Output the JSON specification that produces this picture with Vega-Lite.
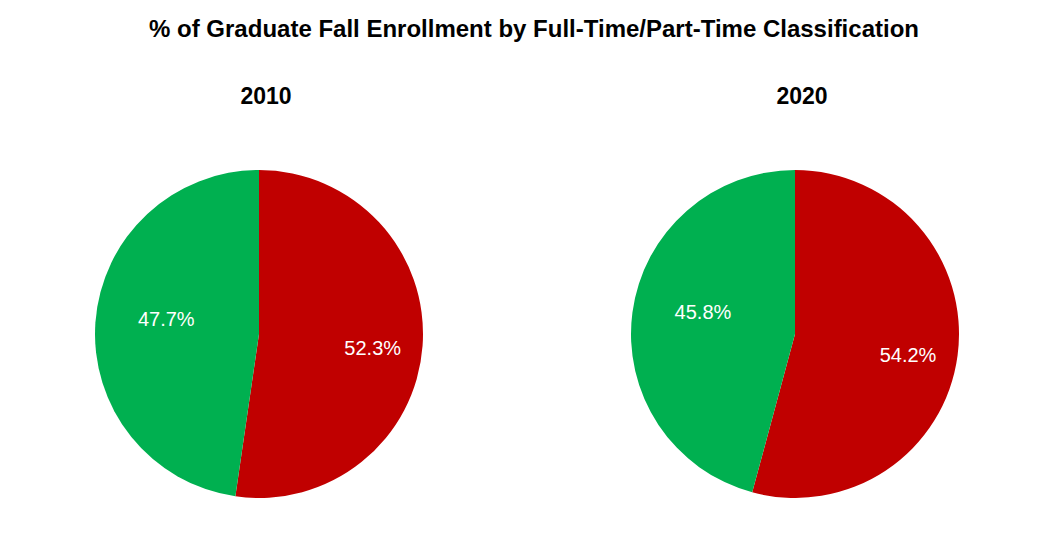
{
  "$schema": "https://vega.github.io/schema/vega-lite/v6.json",
  "background": "white",
  "padding": {"left": 95, "top": 18, "right": 0, "bottom": 0},
  "title": {
    "text": "% of Graduate Fall Enrollment by Full-Time/Part-Time Classification",
    "font": "Liberation Sans",
    "fontSize": 24,
    "fontWeight": "bold",
    "color": "black",
    "anchor": "middle",
    "offset": 44,
    "dx": 7
  },
  "data": {
    "values": [
      {"year": "2010", "Type": "Full-Time", "pct": 0.523},
      {"year": "2010", "Type": "Part-Time", "pct": 0.477},
      {"year": "2020", "Type": "Full-Time", "pct": 0.542},
      {"year": "2020", "Type": "Part-Time", "pct": 0.458}
    ]
  },
  "spacing": 208,
  "hconcat": [
    {
      "transform": [{"filter": "datum.year == '2010'"}],
      "title": {"text": "2010", "font": "Liberation Sans", "fontSize": 23, "fontWeight": "bold", "color": "black", "anchor": "middle", "offset": 61, "dx": 7},
      "width": 328,
      "height": 328,
      "layer": [
        {
          "mark": {"type": "arc"},
          "encoding": {
            "theta": {"field": "pct", "type": "quantitative", "stack": true},
            "order": {"field": "Type", "type": "nominal", "sort": "ascending"},
            "color": {"field": "Type", "type": "nominal", "scale": {"domain": ["Full-Time", "Part-Time"], "range": ["#C00000", "#00B050"]}, "legend": null}
          }
        },
        {
          "mark": {"type": "text", "radius": 113, "font": "Liberation Sans", "fontSize": 20, "color": "white", "baseline": "middle", "align": "center",
            "dx": {"expr": "datum.Type == 'Part-Time' ? 20 : 1"},
            "dy": {"expr": "datum.Type == 'Part-Time' ? -6 : 7"}},
          "encoding": {
            "theta": {"field": "pct", "type": "quantitative", "stack": true},
            "order": {"field": "Type", "type": "nominal", "sort": "ascending"},
            "text": {"field": "pct", "type": "quantitative", "format": ".1%"}
          }
        }
      ]
    },
    {
      "transform": [{"filter": "datum.year == '2020'"}],
      "title": {"text": "2020", "font": "Liberation Sans", "fontSize": 23, "fontWeight": "bold", "color": "black", "anchor": "middle", "offset": 61, "dx": 7},
      "width": 328,
      "height": 328,
      "layer": [
        {
          "mark": {"type": "arc"},
          "encoding": {
            "theta": {"field": "pct", "type": "quantitative", "stack": true},
            "order": {"field": "Type", "type": "nominal", "sort": "ascending"},
            "color": {"field": "Type", "type": "nominal", "scale": {"domain": ["Full-Time", "Part-Time"], "range": ["#C00000", "#00B050"]}, "legend": null}
          }
        },
        {
          "mark": {"type": "text", "radius": 113, "font": "Liberation Sans", "fontSize": 20, "color": "white", "baseline": "middle", "align": "center",
            "dx": {"expr": "datum.Type == 'Part-Time' ? 20 : 1"},
            "dy": {"expr": "datum.Type == 'Part-Time' ? -6 : 7"}},
          "encoding": {
            "theta": {"field": "pct", "type": "quantitative", "stack": true},
            "order": {"field": "Type", "type": "nominal", "sort": "ascending"},
            "text": {"field": "pct", "type": "quantitative", "format": ".1%"}
          }
        }
      ]
    }
  ],
  "config": {"view": {"stroke": null}}
}
